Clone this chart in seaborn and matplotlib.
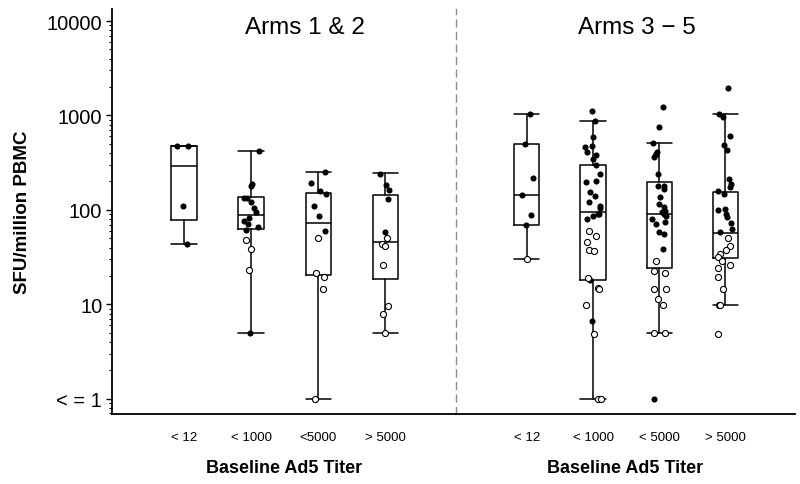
# SFU/million PBMC por titulo basal de Ad5, dos paneles (Arms 1 & 2 / Arms 3 - 5)

import numpy as np
import pandas as pd
import seaborn as sns
import matplotlib.pyplot as plt

groups = ["< 12", "< 1000", "< 5000", "> 5000"]
left_ticklabels = ["< 12", "< 1000", "<5000", "> 5000"]
right_ticklabels = ["< 12", "< 1000", "< 5000", "> 5000"]
ytick_values = [1, 10, 100, 1000, 10000]
ytick_labels = ["< = 1", "10", "100", "1000", "10000"]

# cajas (q1, mediana, q3, bigotes)
a12_q1 = [78, 63, 20.5, 18.5]
a12_med = [290, 89, 73, 46]
a12_q3 = [480, 136, 150, 145]
a12_lo = [44, 5, 1, 5]
a12_hi = [480, 420, 254, 244]

a35_q1 = [70, 17.9, 24, 31]
a35_med = [144, 94, 90, 57]
a35_q3 = [500, 299, 196, 154]
a35_lo = [30, 1, 5, 9.9]
a35_hi = [1045, 875, 508, 1045]

# puntos individuales (relleno = negro, abierto = blanco)
a12_lt12_filled = [480, 470, 109, 44]
a12_lt12_open = []
a12_lt1000_filled = [420, 190, 180, 135, 133, 122, 104, 94, 83, 77, 71, 66, 62, 5]
a12_lt1000_open = [48, 39, 23]
a12_lt5000_filled = [254, 192, 160, 148, 109, 86, 60]
a12_lt5000_open = [51, 21.5, 19.4, 14.6, 1]
a12_gt5000_filled = [240, 184, 164, 131, 59]
a12_gt5000_open = [50, 44, 41, 26, 9.7, 7.9, 5]

a35_lt12_filled = [1045, 500, 218, 144, 88, 70]
a35_lt12_open = [30]
a35_lt1000_filled = [1110, 875, 588, 475, 460, 414, 382, 347, 299, 240, 204, 196,
                     154, 142, 120, 111, 104, 91, 87, 91, 80, 17.9, 6.6]
a35_lt1000_open = [60, 53, 46, 38, 37, 19, 14.8, 14.6, 9.9, 4.9, 1, 1]
a35_lt5000_filled = [1240, 750, 508, 414, 391, 391, 361, 240, 181, 178, 167, 136,
                     116, 107, 98, 94, 91, 87, 80, 74, 71, 59, 56, 39, 1]
a35_lt5000_open = [29, 22.8, 21.5, 14.6, 14.6, 11.4, 9.9, 5, 5]
a35_gt5000_filled = [1955, 1045, 957, 603, 487, 431, 213, 188, 174, 160, 148, 102,
                     101, 91, 84, 73, 63, 58]
a35_gt5000_open = [51, 41, 38, 34, 32, 29, 26, 24, 19.4, 14.6, 9.9, 9.9, 4.9]


def long_table(filled, opened):
    rows = []
    for g, f, o in zip(groups, filled, opened):
        rows += [(g, v, "filled") for v in f]
        rows += [(g, v, "open") for v in o]
    return pd.DataFrame(rows, columns=["titer", "sfu", "kind"])


def box_stats(q1, med, q3, lo, hi):
    return [dict(q1=a, med=b, q3=c, whislo=d, whishi=e, fliers=[])
            for a, b, c, d, e in zip(q1, med, q3, lo, hi)]


sns.set_theme(style="ticks")
plt.rcParams["font.family"] = ["Liberation Sans", "DejaVu Sans"]
plt.rcParams["text.color"] = "black"
plt.rcParams["axes.labelcolor"] = "black"
plt.rcParams["xtick.color"] = "black"
plt.rcParams["ytick.color"] = "black"
np.random.seed(7)

fig = plt.figure(figsize=(8, 4.85), dpi=100)
ax1 = fig.add_axes([0.14, 0.1443, 0.43, 0.835])
ax2 = fig.add_axes([0.57, 0.1443, 0.42375, 0.835], sharey=ax1)

panels = [
    (ax1, long_table([a12_lt12_filled, a12_lt1000_filled, a12_lt5000_filled, a12_gt5000_filled],
                     [a12_lt12_open, a12_lt1000_open, a12_lt5000_open, a12_gt5000_open]),
     box_stats(a12_q1, a12_med, a12_q3, a12_lo, a12_hi), "Arms 1 & 2", 0.56, left_ticklabels),
    (ax2, long_table([a35_lt12_filled, a35_lt1000_filled, a35_lt5000_filled, a35_gt5000_filled],
                     [a35_lt12_open, a35_lt1000_open, a35_lt5000_open, a35_gt5000_open]),
     box_stats(a35_q1, a35_med, a35_q3, a35_lo, a35_hi), "Arms 3 \u2212 5", 0.534, right_ticklabels),
]

line = dict(color="black", linewidth=1.1)
for ax, df, stats, title, tx, ticklabels in panels:
    ax.set_yscale("log")
    ax.bxp(stats, positions=range(len(groups)), widths=0.38, capwidths=0.38,
           showfliers=False, manage_ticks=False,
           boxprops=line, whiskerprops=line, capprops=line, medianprops=line)
    sns.stripplot(data=df[df["kind"] == "filled"], x="titer", y="sfu", order=groups,
                  color="black", size=4.4, jitter=0.12, ax=ax, zorder=3)
    sns.stripplot(data=df[df["kind"] == "open"], x="titer", y="sfu", order=groups,
                  color="white", edgecolor="black", linewidth=0.8, size=4.4,
                  jitter=0.12, ax=ax, zorder=3)
    ax.set_xlim(-1.07, 4.05)
    ax.set_xticks(range(len(groups)))
    ax.set_xticklabels(ticklabels, fontsize=9.5)
    ax.tick_params(axis="x", length=0, pad=12)
    ax.set_xlabel("Baseline Ad5 Titer", fontsize=13, fontweight="bold", labelpad=12)
    ax.set_ylabel("")
    ax.text(tx, 0.955, title, transform=ax.transAxes, ha="center", va="center", fontsize=17.5)
    ax.spines["top"].set_visible(False)
    ax.spines["right"].set_visible(False)
    ax.spines["bottom"].set_linewidth(1.3)
    ax.spines["bottom"].set_color("black")

ax1.set_ylim(0.69, 13400)
ax1.set_yticks(ytick_values)
ax1.set_yticklabels(ytick_labels, fontsize=14.5)
ax1.tick_params(axis="y", which="major", length=4, width=1, direction="out", pad=3, color="black")
ax1.tick_params(axis="y", which="minor", length=2, width=0.8, direction="out", color="black")
ax1.spines["left"].set_linewidth(1.3)
ax1.spines["left"].set_color("black")

ax2.spines["left"].set_linestyle((0, (5, 4)))
ax2.spines["left"].set_color("#8c8c8c")
ax2.spines["left"].set_linewidth(1.0)
ax2.tick_params(axis="y", which="both", left=False, labelleft=False)

fig.text(0.028, 0.563, "SFU/million PBMC", rotation=90, ha="center", va="center",
         fontsize=13.5, fontweight="bold")

fig.savefig("out.png", dpi=100)
